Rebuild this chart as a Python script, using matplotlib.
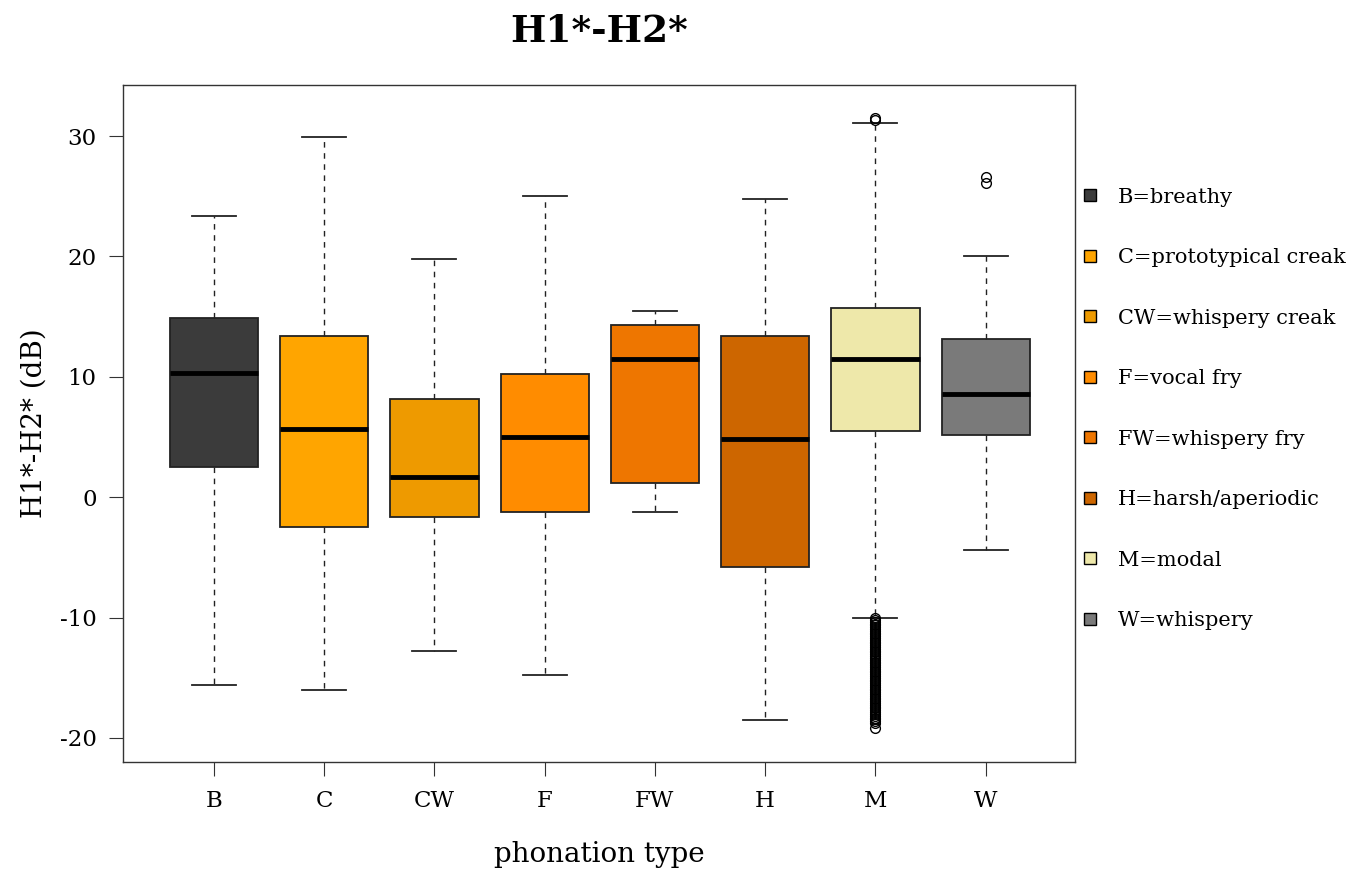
import matplotlib
matplotlib.use('Agg')
import matplotlib.pyplot as plt
from matplotlib.lines import Line2D

plt.rcParams['font.family'] = ['DejaVu Serif']
plt.rcParams['axes.unicode_minus'] = False

# phonation types and summary stats (dB)
types = ['B', 'C', 'CW', 'F', 'FW', 'H', 'M', 'W']
legend_labels = ['B=breathy', 'C=prototypical creak', 'CW=whispery creak', 'F=vocal fry',
                 'FW=whispery fry', 'H=harsh/aperiodic', 'M=modal', 'W=whispery']
colors = ['#3B3B3B', '#FFA500', '#EE9A00', '#FF8C00', '#EE7600', '#CD6600', '#EEE8AA', '#7A7A7A']

whis_hi = [23.4, 29.9, 19.8, 25.0, 15.5, 24.8, 31.1, 20.0]
q3 = [14.9, 13.4, 8.15, 10.25, 14.3, 13.4, 15.7, 13.15]
median = [10.35, 5.7, 1.65, 5.0, 11.5, 4.8, 11.5, 8.6]
q1 = [2.55, -2.45, -1.65, -1.25, 1.15, -5.8, 5.5, 5.15]
whis_lo = [-15.6, -16.0, -12.8, -14.8, -1.25, -18.5, -10.0, -4.4]

m_outliers = [31.3, 31.5,
              -10.05, -10.2, -10.35, -10.5, -10.65, -10.8, -10.95, -11.1, -11.25, -11.4,
              -11.55, -11.7, -11.85, -12.0, -12.15, -12.3, -12.45, -12.6, -12.75, -12.9,
              -13.05, -13.2, -13.35, -13.5, -13.65, -13.8, -13.95, -14.1, -14.25, -14.4,
              -14.55, -14.7, -14.85, -15.0, -15.15, -15.3, -15.45, -15.6, -15.75, -15.9,
              -16.05, -16.2, -16.35, -16.5, -16.65, -16.8, -16.95, -17.1, -17.25, -17.4,
              -17.55, -17.7, -17.85, -18.0, -18.15, -18.3, -18.45, -18.6, -18.75, -19.2]
w_outliers = [26.1, 26.6]
fliers = [[], [], [], [], [], [], m_outliers, w_outliers]

stats = []
for i in range(len(types)):
    stats.append({'label': types[i], 'med': median[i], 'q1': q1[i], 'q3': q3[i],
                  'whislo': whis_lo[i], 'whishi': whis_hi[i], 'fliers': fliers[i]})

fig = plt.figure(figsize=(13.63, 8.73), dpi=100)
ax = fig.add_axes([0.0902, 0.1271, 0.6985, 0.7755])

bp = ax.bxp(stats, widths=0.8, capwidths=0.4, patch_artist=True,
            boxprops=dict(edgecolor='#222222', linewidth=1.3),
            whiskerprops=dict(color='#222222', linewidth=1.0, linestyle=(0, (4, 4))),
            capprops=dict(color='#222222', linewidth=1.3),
            medianprops=dict(color='black', linewidth=3.5, solid_capstyle='butt'),
            flierprops=dict(marker='o', markerfacecolor='none', markeredgecolor='black',
                            markersize=7, markeredgewidth=1.0))
for patch, c in zip(bp['boxes'], colors):
    patch.set_facecolor(c)

ax.set_xlim(0.175, 8.81)
ax.set_ylim(-22.0, 34.24)
ax.set_yticks([-20, -10, 0, 10, 20, 30])
ax.tick_params(axis='y', length=10, pad=9, labelsize=16.5, color='#333333')
ax.tick_params(axis='x', length=10, pad=10, labelsize=16.5, color='#333333')
for s in ax.spines.values():
    s.set_color('#333333')
    s.set_linewidth(1.0)

ax.set_xlabel('phonation type', fontsize=20, labelpad=21)
ax.set_ylabel('H1*-H2* (dB)', fontsize=20, labelpad=9)
fig.suptitle('H1*-H2*', fontsize=27, fontweight='bold', x=0.4395, y=0.985)

handles = [Line2D([], [], linestyle='none', marker='s', markersize=8, markerfacecolor=c,
                  markeredgecolor='black', markeredgewidth=1.0) for c in colors]
ax.legend(handles, legend_labels, loc='upper left', bbox_to_anchor=(1.0, 0.855),
          frameon=False, fontsize=15, labelspacing=1.99, handlelength=1.0,
          handletextpad=0.85, borderaxespad=-0.18)

fig.savefig('out.png', dpi=100)
